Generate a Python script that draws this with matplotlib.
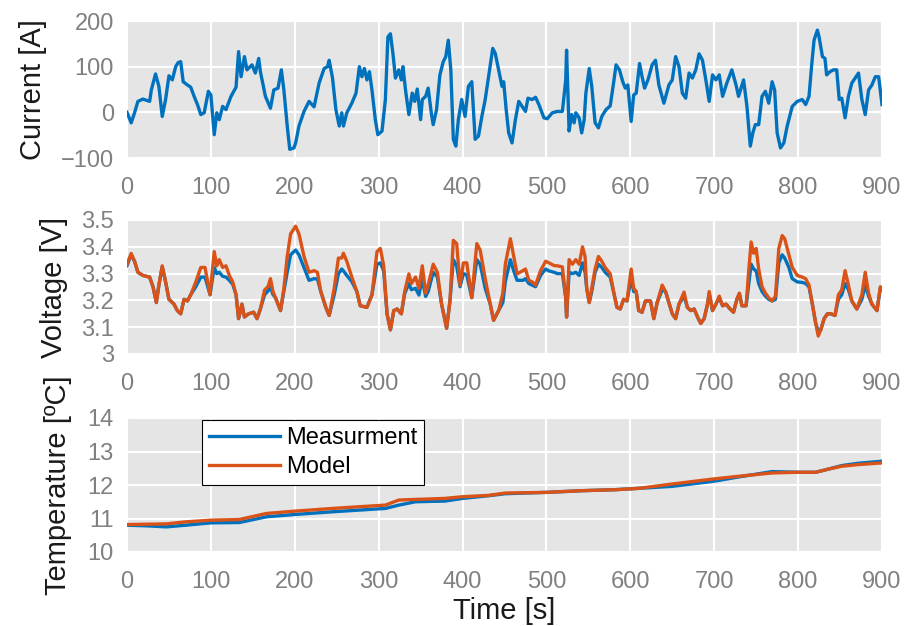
import matplotlib
matplotlib.use("Agg")
import matplotlib.pyplot as plt

# ---------------- data ----------------
t_current = [0, 5, 9, 13, 19, 27, 29, 34, 38, 42, 46, 50, 54, 58, 61, 64, 67, 72, 76, 80,
             84, 88, 92, 97, 100, 104, 107, 110, 114, 118, 124, 130, 133, 136, 140, 143, 149, 153, 157, 159,
             165, 171, 175, 180, 184, 187, 191, 194, 199, 201, 205, 211, 217, 223, 229, 235, 239, 241, 245, 249,
             253, 256, 258, 262, 268, 273, 277, 280, 283, 286, 289, 292, 296, 299, 304, 308, 311, 314, 317, 320,
             324, 327, 329, 332, 336, 340, 343, 346, 350, 352, 356, 359, 363, 365, 369, 373, 377, 380, 383, 386,
             389, 392, 395, 399, 403, 407, 411, 415, 419, 423, 427, 431, 436, 439, 443, 447, 449, 452, 455, 459,
             463, 467, 471, 475, 478, 483, 487, 491, 497, 501, 507, 513, 519, 523, 524, 527, 530, 533, 535, 539,
             542, 545, 547, 551, 554, 558, 562, 566, 571, 576, 580, 583, 587, 591, 594, 597, 601, 604, 607, 611,
             614, 617, 621, 626, 630, 634, 640, 646, 650, 654, 658, 662, 666, 670, 674, 678, 682, 686, 690, 694,
             698, 702, 706, 710, 715, 721, 726, 729, 735, 739, 743, 746, 749, 753, 757, 761, 765, 769, 772, 775,
             779, 783, 787, 793, 799, 805, 809, 813, 816, 819, 823, 825, 829, 832, 834, 838, 842, 846, 849, 852,
             856, 860, 864, 868, 872, 876, 880, 884, 888, 892, 896, 900]
current = [0, -23, -1, 24, 29, 24, 49, 84, 57, -9, 28, 80, 71, 100, 109, 111, 67, 60, 55, 35,
           17, -5, -1, 46, 38, -49, -1, -16, 13, 6, 35, 55, 133, 78, 122, 93, 104, 86, 118, 89,
           35, 9, 49, 53, 93, 49, -30, -81, -78, -67, -30, 2, 24, 12, 64, 96, 100, 114, 75, 6,
           -30, -1, -30, -1, 20, 42, 100, 78, 96, 71, 89, 49, -16, -49, -41, 28, 165, 172, 129, 75,
           93, 71, 100, 49, -5, 42, 24, 51, -16, 28, 35, 53, -5, -27, 6, 82, 111, 122, 158, 93,
           -59, -74, -16, 28, -9, 57, 67, -59, -52, -9, 28, 78, 140, 129, 93, 57, 67, 6, -45, -67,
           -16, 24, 13, 2, 31, 28, 33, 17, -12, -14, -1, 2, 2, 71, 136, -41, -5, -23, -1, -12,
           -45, -16, 42, 96, 57, -23, -34, -9, 6, 14, 64, 104, 93, 67, 53, 60, -20, 38, 42, 107,
           78, 53, 71, 104, 114, 60, 20, 60, 71, 122, 100, 42, 31, 86, 75, 93, 128, 114, 71, 24,
           82, 71, 82, 35, 64, 93, 60, 35, 71, 13, -74, -45, -27, -27, 35, 46, 20, 67, 49, -45,
           -78, -67, -30, 13, 24, 28, 17, 35, 100, 158, 180, 165, 122, 118, 82, 89, 93, 93, 28, 31,
           -12, 35, 64, 75, 86, 28, -5, 49, 60, 78, 78, 17]

t_voltage = [0, 5, 9, 13, 19, 27, 31, 35, 38, 42, 46, 50, 56, 60, 64, 68, 72, 76, 82, 88,
             93, 99, 104, 107, 110, 114, 118, 122, 126, 130, 133, 137, 140, 145, 151, 155, 159, 164, 168, 171,
             174, 177, 183, 187, 191, 195, 201, 205, 211, 217, 223, 227, 231, 237, 241, 247, 252, 256, 258, 262,
             268, 274, 278, 286, 292, 298, 302, 306, 310, 314, 318, 322, 327, 331, 336, 339, 344, 348, 352, 356,
             359, 365, 370, 375, 381, 385, 389, 393, 397, 401, 405, 411, 417, 421, 427, 433, 437, 443, 448, 451,
             457, 461, 465, 472, 475, 479, 483, 487, 493, 499, 503, 509, 513, 519, 523, 524, 527, 531, 535, 539,
             543, 546, 548, 551, 554, 558, 562, 566, 570, 576, 580, 584, 588, 592, 596, 601, 604, 607, 610, 614,
             618, 624, 628, 632, 638, 642, 646, 650, 654, 658, 664, 668, 672, 676, 681, 684, 688, 692, 694, 698,
             702, 706, 710, 714, 719, 723, 727, 730, 733, 738, 741, 744, 747, 750, 753, 757, 761, 765, 769, 773,
             777, 781, 784, 789, 793, 799, 805, 809, 813, 817, 821, 824, 827, 831, 835, 839, 844, 848, 852, 856,
             860, 864, 870, 876, 880, 884, 888, 894, 898, 900]
voltage_model = [3.335, 3.375, 3.346, 3.305, 3.293, 3.287, 3.251, 3.192, 3.257, 3.329, 3.269, 3.204, 3.186, 3.162, 3.150, 3.204, 3.198, 3.221, 3.269, 3.323,
                 3.323, 3.221, 3.382, 3.329, 3.352, 3.323, 3.329, 3.293, 3.269, 3.221, 3.132, 3.186, 3.138, 3.150, 3.156, 3.132, 3.168, 3.239, 3.251, 3.281,
                 3.233, 3.210, 3.162, 3.245, 3.364, 3.448, 3.477, 3.448, 3.364, 3.305, 3.311, 3.305, 3.233, 3.174, 3.144, 3.245, 3.358, 3.358, 3.376, 3.346,
                 3.287, 3.233, 3.180, 3.174, 3.221, 3.382, 3.394, 3.329, 3.150, 3.090, 3.162, 3.168, 3.150, 3.233, 3.299, 3.263, 3.287, 3.245, 3.329, 3.227,
                 3.257, 3.335, 3.305, 3.186, 3.096, 3.198, 3.424, 3.412, 3.257, 3.340, 3.340, 3.210, 3.412, 3.388, 3.281, 3.186, 3.126, 3.162, 3.227, 3.335,
                 3.430, 3.364, 3.299, 3.311, 3.317, 3.275, 3.269, 3.257, 3.311, 3.346, 3.340, 3.330, 3.329, 3.325, 3.210, 3.138, 3.352, 3.335, 3.352, 3.335,
                 3.400, 3.364, 3.245, 3.192, 3.245, 3.317, 3.364, 3.346, 3.323, 3.299, 3.233, 3.174, 3.168, 3.204, 3.198, 3.317, 3.245, 3.233, 3.162, 3.156,
                 3.198, 3.198, 3.132, 3.192, 3.257, 3.233, 3.192, 3.150, 3.132, 3.186, 3.231, 3.174, 3.162, 3.168, 3.132, 3.114, 3.132, 3.186, 3.233, 3.162,
                 3.186, 3.216, 3.180, 3.186, 3.168, 3.156, 3.204, 3.227, 3.180, 3.180, 3.305, 3.418, 3.376, 3.394, 3.317, 3.251, 3.227, 3.210, 3.198, 3.216,
                 3.394, 3.442, 3.430, 3.370, 3.323, 3.293, 3.287, 3.281, 3.257, 3.186, 3.114, 3.067, 3.090, 3.132, 3.150, 3.150, 3.144, 3.221, 3.239, 3.311,
                 3.257, 3.198, 3.168, 3.221, 3.305, 3.227, 3.186, 3.162, 3.251, 3.240]
voltage_meas = [3.330, 3.370, 3.346, 3.305, 3.293, 3.287, 3.251, 3.192, 3.257, 3.325, 3.269, 3.204, 3.186, 3.162, 3.150, 3.204, 3.198, 3.221, 3.251, 3.287,
                3.287, 3.221, 3.323, 3.300, 3.305, 3.290, 3.287, 3.275, 3.260, 3.221, 3.132, 3.186, 3.138, 3.150, 3.156, 3.132, 3.168, 3.221, 3.235, 3.250,
                3.222, 3.210, 3.162, 3.235, 3.305, 3.370, 3.388, 3.370, 3.323, 3.275, 3.281, 3.280, 3.233, 3.174, 3.144, 3.221, 3.299, 3.317, 3.310, 3.293,
                3.270, 3.233, 3.180, 3.174, 3.221, 3.335, 3.340, 3.310, 3.150, 3.090, 3.162, 3.168, 3.150, 3.225, 3.263, 3.240, 3.245, 3.220, 3.280, 3.215,
                3.233, 3.305, 3.287, 3.186, 3.096, 3.198, 3.352, 3.329, 3.251, 3.300, 3.295, 3.210, 3.352, 3.335, 3.245, 3.186, 3.126, 3.162, 3.192, 3.270,
                3.352, 3.310, 3.275, 3.275, 3.281, 3.263, 3.257, 3.251, 3.293, 3.317, 3.310, 3.305, 3.300, 3.300, 3.210, 3.138, 3.305, 3.300, 3.305, 3.293,
                3.340, 3.305, 3.245, 3.192, 3.233, 3.305, 3.335, 3.323, 3.305, 3.287, 3.233, 3.174, 3.168, 3.204, 3.198, 3.281, 3.233, 3.233, 3.162, 3.156,
                3.198, 3.198, 3.132, 3.192, 3.240, 3.233, 3.192, 3.150, 3.132, 3.186, 3.216, 3.174, 3.162, 3.168, 3.132, 3.114, 3.132, 3.186, 3.225, 3.162,
                3.186, 3.210, 3.180, 3.186, 3.168, 3.156, 3.204, 3.225, 3.180, 3.180, 3.257, 3.335, 3.317, 3.310, 3.263, 3.233, 3.216, 3.204, 3.198, 3.204,
                3.340, 3.370, 3.358, 3.323, 3.281, 3.269, 3.267, 3.263, 3.250, 3.186, 3.114, 3.085, 3.090, 3.132, 3.150, 3.150, 3.144, 3.204, 3.221, 3.263,
                3.240, 3.198, 3.168, 3.204, 3.257, 3.216, 3.186, 3.162, 3.245, 3.240]

t_temp = [0, 25, 47, 70, 100, 134, 166, 200, 245, 276, 308, 324, 344, 379, 400, 431, 451, 500, 542, 582,
          610, 650, 699, 729, 769, 800, 821, 837, 852, 872, 900]
temp_meas = [10.80, 10.78, 10.75, 10.80, 10.87, 10.88, 11.05, 11.12, 11.20, 11.25, 11.30, 11.40, 11.50, 11.52, 11.60, 11.68, 11.74, 11.78, 11.83, 11.86,
             11.90, 11.96, 12.11, 12.24, 12.40, 12.38, 12.38, 12.48, 12.58, 12.65, 12.71]
temp_model = [10.82, 10.83, 10.84, 10.90, 10.95, 10.97, 11.15, 11.22, 11.30, 11.35, 11.40, 11.55, 11.57, 11.60, 11.65, 11.69, 11.76, 11.78, 11.83, 11.86,
              11.90, 12.03, 12.18, 12.26, 12.36, 12.38, 12.38, 12.48, 12.56, 12.61, 12.66]

x_ticks = [0, 100, 200, 300, 400, 500, 600, 700, 800, 900]
current_ticks = [-100, 0, 100, 200]
voltage_ticks = [3.0, 3.1, 3.2, 3.3, 3.4, 3.5]
voltage_ticklabels = ["3", "3.1", "3.2", "3.3", "3.4", "3.5"]
temp_ticks = [10, 11, 12, 13, 14]

# ---------------- style ----------------
BLUE = "#0072BD"
ORANGE = "#D95319"
BG = "#E5E5E5"
TICKC = "#808080"
LABELC = "#1a1a1a"

plt.rcParams["font.family"] = ["Liberation Sans", "DejaVu Sans"]

W, H = 911, 626
fig = plt.figure(figsize=(W / 100, H / 100), dpi=100)

def px_axes(left, top, right, bottom):
    return fig.add_axes([left / W, 1 - bottom / H, (right - left) / W, (bottom - top) / H])

ax1 = px_axes(127, 21, 882, 158)
ax2 = px_axes(127, 220, 882, 354)
ax3 = px_axes(127, 418, 882, 552)

def style(ax):
    ax.set_facecolor(BG)
    for s in ax.spines.values():
        s.set_visible(False)
    ax.grid(True, color="white", linewidth=1.5)
    ax.set_axisbelow(True)
    ax.tick_params(axis="both", length=0, labelsize=17, colors=TICKC)
    ax.tick_params(axis="x", pad=14)
    ax.tick_params(axis="y", pad=9.5)
    ax.set_xlim(0, 900)
    ax.set_xticks(x_ticks)

LW = 2.4

ax1.plot(t_current, current, color=BLUE, lw=LW)
style(ax1)
ax1.set_ylim(-100, 200)
ax1.set_yticks(current_ticks)
ax1.set_ylabel("Current [A]", fontsize=21, color=LABELC)
ax1.yaxis.set_label_coords(-0.106, 0.5)

ax2.plot(t_voltage, voltage_meas, color=BLUE, lw=LW)
ax2.plot(t_voltage, voltage_model, color=ORANGE, lw=LW)
style(ax2)
ax2.set_ylim(3.0, 3.5)
ax2.set_yticks(voltage_ticks)
ax2.set_yticklabels(voltage_ticklabels)
ax2.set_ylabel("Voltage [V]", fontsize=21, color=LABELC)
ax2.yaxis.set_label_coords(-0.078, 0.5)

ax3.plot(t_temp, temp_meas, color=BLUE, lw=LW, label="Measurment")
ax3.plot(t_temp, temp_model, color=ORANGE, lw=LW, label="Model")
style(ax3)
ax3.set_ylim(10, 14)
ax3.set_yticks(temp_ticks)
ax3.set_ylabel("Temperature [ºC]", fontsize=21, color=LABELC)
ax3.yaxis.set_label_coords(-0.073, 0.5)
ax3.set_xlabel("Time [s]", fontsize=21, color=LABELC)
ax3.xaxis.set_label_coords(0.5, -0.335)

leg = ax3.legend(loc="upper left", bbox_to_anchor=(0.0993, 0.985), borderaxespad=0,
                 fontsize=17, handlelength=3.0, handletextpad=0.25, borderpad=0.3,
                 labelspacing=0.3, fancybox=False, framealpha=1, edgecolor="black")
leg.get_frame().set_linewidth(0.8)

fig.savefig("out.png", dpi=100)
